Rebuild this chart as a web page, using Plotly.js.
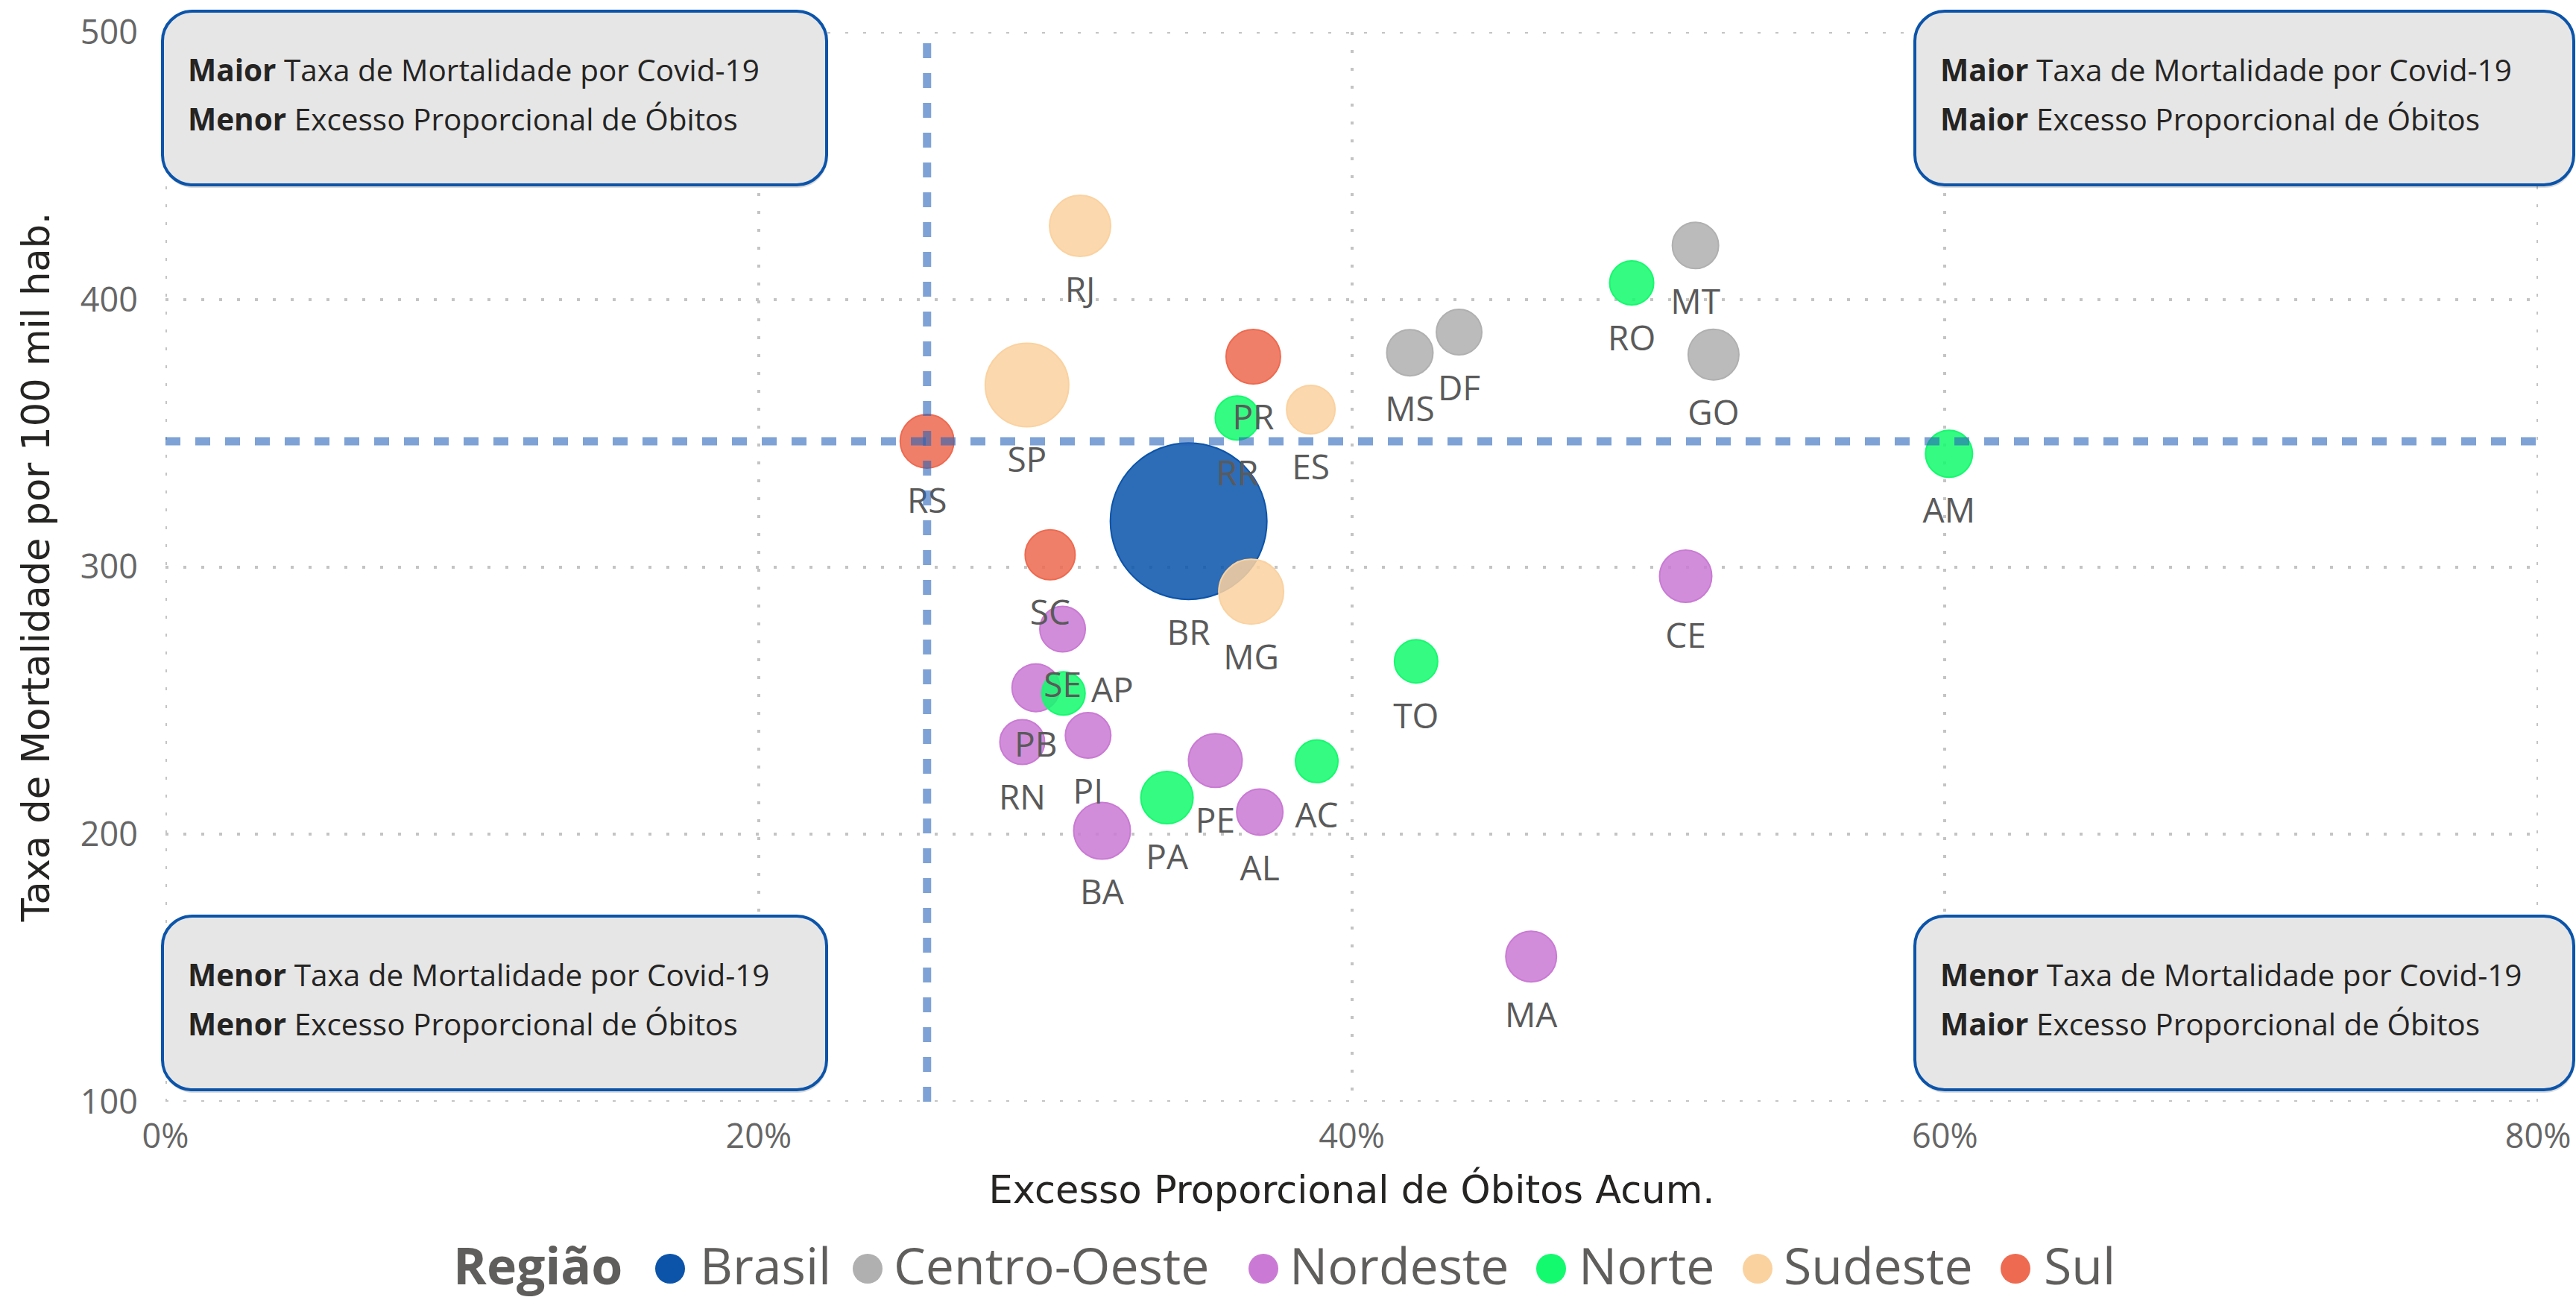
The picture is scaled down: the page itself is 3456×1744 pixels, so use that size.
<!DOCTYPE html>
<html><head><meta charset="utf-8">
<script src="https://cdn.plot.ly/plotly-3.0.1.min.js"></script>
<style>html,body{margin:0;padding:0;background:#fff;}</style>
</head><body>
<div id="chart" style="width:3456px;height:1744px;"></div>
<script>
// ---- data ----
const regioes = ['Brasil','Centro-Oeste','Nordeste','Norte','Sudeste','Sul'];
const coresRegiao = ['#0B54AA','#B0B0B0','#CA7AD4','#14FA6E','#FAD2A0','#EE6A50'];

const siglas   = ['BR','DF','GO','MS','MT','AL','BA','CE','MA','PB','PE','PI','RN','SE','AC','AM','AP','PA','RO','RR','TO','ES','MG','RJ','SP','PR','RS','SC'];
const regiaoUF = ['Brasil','Centro-Oeste','Centro-Oeste','Centro-Oeste','Centro-Oeste',
                  'Nordeste','Nordeste','Nordeste','Nordeste','Nordeste','Nordeste','Nordeste','Nordeste','Nordeste',
                  'Norte','Norte','Norte','Norte','Norte','Norte','Norte',
                  'Sudeste','Sudeste','Sudeste','Sudeste','Sul','Sul','Sul'];
// Excesso Proporcional de Óbitos Acum. (fração)
const excesso  = [0.345,0.4362,0.522,0.4196,0.5159,0.369,0.3158,0.5126,0.4605,0.2935,0.354,0.3111,0.2889,0.3025,0.3882,0.6014,0.3028,0.3377,0.4944,0.3614,0.4217,0.3862,0.3661,0.3084,0.2905,0.3668,0.2568,0.2983];
// Taxa de Mortalidade por 100 mil hab.
const taxa     = [317.1,387.8,379.4,380.1,420.2,208.3,201.3,296.5,154.3,254.8,227.6,237.0,234.5,276.7,227.3,342.3,252.7,213.7,406.2,355.7,264.7,358.8,290.7,427.5,368.0,378.6,347.0,304.5];
// tamanho relativo da bolha
const tamanho  = [210,61,68,62,62,62,76,70,68,64,72,61,60,61,57,63,58,70,59,59,58,65,87,82,112,73,72,67];
// posição do rótulo
const posRotulo = siglas.map(s => s === 'AP' ? 'middle right' : 'bottom center');

// linhas de referência
const refExcesso = 0.2568;
const refTaxa = 347.0;

const xRange = [0, 0.8];
const yRange = [100, 500];
const xTicks = [0,0.2,0.4,0.6,0.8];
const yTicks = [100,200,300,400,500];

const quadrantes = [
  ['<b>Maior</b> Taxa de Mortalidade por Covid-19','<b>Menor</b> Excesso Proporcional de Óbitos'],
  ['<b>Maior</b> Taxa de Mortalidade por Covid-19','<b>Maior</b> Excesso Proporcional de Óbitos'],
  ['<b>Menor</b> Taxa de Mortalidade por Covid-19','<b>Menor</b> Excesso Proporcional de Óbitos'],
  ['<b>Menor</b> Taxa de Mortalidade por Covid-19','<b>Maior</b> Excesso Proporcional de Óbitos']
];

// ---- layout geometry ----
const W = 3456, H = 1744;
const PL = 222, PR = 3405, PT = 43, PB = 1478;
const PW = PR - PL, PH = PB - PT;
const X = p => (p - PL) / PW;
const Y = p => (PB - p) / PH;

function alpha(hex, a){
  const n = parseInt(hex.slice(1),16);
  return `rgba(${(n>>16)&255},${(n>>8)&255},${n&255},${a})`;
}

function roundRect(x0,y0,x1,y1,r){
  const k = r*0.5523;
  return `M${X(x0+r)},${Y(y0)} L${X(x1-r)},${Y(y0)} C${X(x1-r+k)},${Y(y0)} ${X(x1)},${Y(y0+r-k)} ${X(x1)},${Y(y0+r)} `+
         `L${X(x1)},${Y(y1-r)} C${X(x1)},${Y(y1-r+k)} ${X(x1-r+k)},${Y(y1)} ${X(x1-r)},${Y(y1)} `+
         `L${X(x0+r)},${Y(y1)} C${X(x0+r-k)},${Y(y1)} ${X(x0)},${Y(y1-r+k)} ${X(x0)},${Y(y1-r)} `+
         `L${X(x0)},${Y(y0+r)} C${X(x0)},${Y(y0+r-k)} ${X(x0+r-k)},${Y(y0)} ${X(x0+r)},${Y(y0)} Z`;
}

// ---- traces ----
const traces = [];
regioes.forEach((reg, ri) => {
  const idx = siglas.map((s,i)=>i).filter(i => regiaoUF[i] === reg);
  traces.push({
    type:'scatter', mode:'markers', name: reg, showlegend:false,
    x: idx.map(i=>excesso[i]), y: idx.map(i=>taxa[i]),
    text: idx.map(i=>siglas[i]),
    hovertemplate: '%{text}<br>%{x:.1%}<br>%{y:.1f}<extra>'+reg+'</extra>',
    marker: {
      size: idx.map(i=>tamanho[i]), sizemode:'diameter', sizeref:1, opacity:1,
      color: alpha(coresRegiao[ri], 0.86),
      line: {color: coresRegiao[ri], width: 2}
    }
  });
});
// rótulos (invisible markers carry the label offset)
traces.push({
  type:'scatter', mode:'markers+text', showlegend:false, hoverinfo:'skip',
  x: excesso, y: taxa, text: siglas, textposition: posRotulo,
  marker: {
    size: tamanho.map((d,i)=> posRotulo[i]==='bottom center' ? 0.8*d + 40 : d),
    sizemode:'diameter', sizeref:1, opacity:0, color:'rgba(0,0,0,0)', line:{width:0}
  },
  textfont: {family:'Open Sans, Noto Sans, sans-serif', size:46, color:'#5a5a5a'}
});

// ---- shapes ----
const shapes = [];
const gridLine = {color:'#C4C4C4', width:4, dash:'4px,20px'};
// edge grid lines (the library drops them at the range ends)
[xRange[0], xRange[1]].forEach(v => shapes.push({type:'line', xref:'x', yref:'paper', x0:v, x1:v, y0:0, y1:1, layer:'below', line:gridLine}));
[yRange[0], yRange[1]].forEach(v => shapes.push({type:'line', xref:'paper', yref:'y', x0:0, x1:1, y0:v, y1:v, layer:'below', line:gridLine}));

const boxes = [
  [218, 15, 1109, 248],
  [2569, 15, 3453, 248],
  [218, 1229, 1109, 1462],
  [2569, 1229, 3453, 1462]
];
boxes.forEach(b => {
  shapes.push({type:'path', xref:'paper', yref:'paper', layer:'above',
    path: roundRect(b[0]+1, b[1]+4, b[2]+1, b[3]+4, 40),
    fillcolor:'rgba(0,0,0,0.14)', line:{width:0}});
  shapes.push({type:'path', xref:'paper', yref:'paper', layer:'above',
    path: roundRect(b[0], b[1], b[2], b[3], 40),
    fillcolor:'#E6E6E6', line:{color:'#0B54AA', width:4}});
});
shapes.push({type:'line', xref:'x', yref:'paper', x0:refExcesso, x1:refExcesso, y0:0, y1:1, layer:'above',
  line:{color:'rgba(40,100,185,0.6)', width:11, dash:'20px,20px'}});
shapes.push({type:'line', xref:'paper', yref:'y', x0:0, x1:1, y0:refTaxa, y1:refTaxa, layer:'above',
  line:{color:'rgba(40,100,185,0.6)', width:11, dash:'20px,20px'}});

// ---- annotations ----
const annotations = [];
const boxTextX = [250, 2601, 250, 2601];
const boxTextY = [[93,159],[93,159],[1307,1373],[1307,1373]];
quadrantes.forEach((q, qi) => {
  q.forEach((t, li) => {
    annotations.push({xref:'paper', yref:'paper', x: X(boxTextX[qi]), y: Y(boxTextY[qi][li]),
      xanchor:'left', yanchor:'middle', showarrow:false, text:t, align:'left',
      font:{family:'Open Sans, Noto Sans, sans-serif', size:40.5, color:'#252423'}});
  });
});

// ---- legend (large symbols drawn as shapes) ----
const legY = 1696;
const legTitleX = 606;
const legMarkerX = [899, 1164, 1695, 2081, 2358, 2704];
const legTextX   = [937, 1197, 1728, 2116, 2391, 2740];
const legFont = {family:'Open Sans, Noto Sans, sans-serif', size:68, color:'#605E5C'};
annotations.push({xref:'paper', yref:'paper', x:X(legTitleX), y:Y(legY), xanchor:'left', yanchor:'middle',
  showarrow:false, text:'<b>Região</b>', font:legFont});
regioes.forEach((r,i) => {
  shapes.push({type:'circle', xref:'paper', yref:'paper', xsizemode:'pixel', ysizemode:'pixel',
    xanchor:X(legMarkerX[i]), yanchor:Y(legY+6), x0:-20, x1:20, y0:-20, y1:20,
    fillcolor:coresRegiao[i], line:{width:0}, layer:'above'});
  annotations.push({xref:'paper', yref:'paper', x:X(legTextX[i]), y:Y(legY), xanchor:'left', yanchor:'middle',
    showarrow:false, text:r, font:legFont});
});

const titleFont = {family:'DejaVu Sans, sans-serif', size:51, color:'#252423'};
const layout = {
  width: W, height: H,
  margin: {l:PL, r:W-PR, t:PT, b:H-PB, pad:0},
  paper_bgcolor:'#ffffff', plot_bgcolor:'#ffffff',
  showlegend:false,
  xaxis: {
    range:xRange, tickvals:xTicks, tickformat:'.0%', zeroline:false, showline:false,
    showgrid:true, gridcolor:gridLine.color, gridwidth:gridLine.width, griddash:gridLine.dash,
    ticks:'', ticklabelstandoff:16,
    tickfont:{family:'Open Sans, Noto Sans, sans-serif', size:45, color:'#666666'},
    title:{text:'Excesso Proporcional de Óbitos Acum.', standoff:26, font:titleFont}
  },
  yaxis: {
    range:yRange, tickvals:yTicks, zeroline:false, showline:false,
    showgrid:true, gridcolor:gridLine.color, gridwidth:gridLine.width, griddash:gridLine.dash,
    ticks:'', ticklabelstandoff:36,
    tickfont:{family:'Open Sans, Noto Sans, sans-serif', size:45, color:'#666666'},
    title:{text:'Taxa de Mortalidade por 100 mil hab.', standoff:24, font:titleFont}
  },
  shapes: shapes,
  annotations: annotations
};

Plotly.newPlot('chart', traces, layout, {displayModeBar:false, responsive:false});
</script>
</body></html>
